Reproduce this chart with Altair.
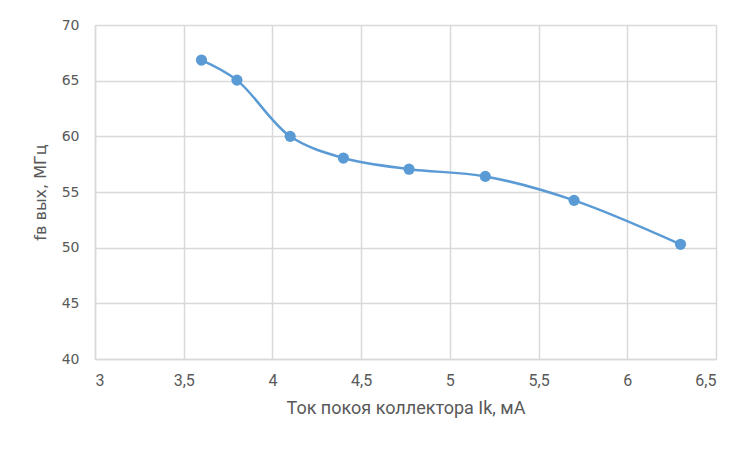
import altair as alt
import pandas as pd

current_ma = [3.6, 3.8, 4.1, 4.4, 4.77, 5.2, 5.7, 6.3]
freq_mhz = [66.85, 65.05, 60.0, 58.05, 57.05, 56.4, 54.25, 50.3]

df = pd.DataFrame({"x": current_ma, "y": freq_mhz})

COLOR = "#5B9BD5"
TEXT = "#595959"
GRID = "#D9D9D9"

x_enc = alt.X("x:Q",
    scale=alt.Scale(domain=[3, 6.5], nice=False, zero=False),
    axis=alt.Axis(values=[3, 3.5, 4, 4.5, 5, 5.5, 6, 6.5],
                  labelExpr="replace(toString(datum.value), '.', ',')",
                  title="Ток покоя коллектора Ik, мА",
                  titlePadding=11))
y_enc = alt.Y("y:Q",
    scale=alt.Scale(domain=[40, 70], nice=False, zero=False),
    axis=alt.Axis(values=[40, 45, 50, 55, 60, 65, 70],
                  title="fв вых, МГц",
                  titlePadding=13))

base = alt.Chart(df).encode(x=x_enc, y=y_enc)
line = base.mark_line(interpolate="catmull-rom", color=COLOR, strokeWidth=2.5)
pts = base.mark_circle(color=COLOR, size=125, opacity=1)

chart = (line + pts).properties(
    width=621, height=334,
    autosize=alt.AutoSizeParams(type="none"),
    padding={"left": 87, "top": 17, "right": 20, "bottom": 80},
).configure_view(stroke=None).configure_axis(
    grid=True, gridColor=GRID, gridWidth=1.5,
    domainColor=GRID, domainWidth=1.5,
    ticks=False,
    labelColor=TEXT, titleColor=TEXT,
    labelFont="Roboto", titleFont="Roboto",
    labelFontSize=16, titleFontSize=18, titleFontWeight="normal",
    labelPadding=13,
).configure_axisY(
    labelFont="DejaVu Sans", titleFont="DejaVu Sans",
    labelFontSize=14, titleFontSize=16, labelPadding=16,
)

chart.save("out.html", embed_options={"renderer": "svg", "actions": False})
